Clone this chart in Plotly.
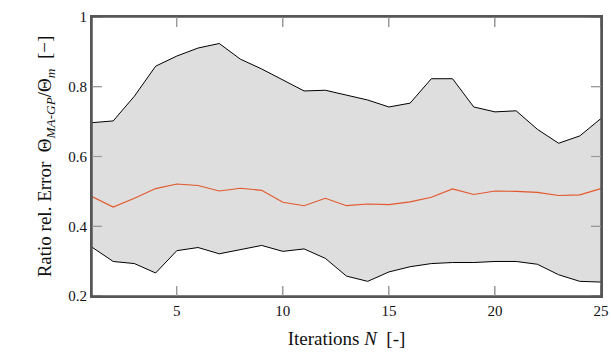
import plotly.graph_objects as go

iterations = list(range(1, 26))
upper = [0.697, 0.702, 0.773, 0.859, 0.888, 0.911, 0.924, 0.879, 0.851, 0.820,
         0.788, 0.790, 0.776, 0.762, 0.742, 0.753, 0.823, 0.823, 0.742, 0.728,
         0.731, 0.678, 0.638, 0.659, 0.709]
lower = [0.340, 0.299, 0.293, 0.266, 0.330, 0.339, 0.321, 0.333, 0.345, 0.328,
         0.335, 0.308, 0.257, 0.242, 0.269, 0.284, 0.293, 0.296, 0.296, 0.299,
         0.299, 0.291, 0.261, 0.242, 0.240]
mean = [0.485, 0.455, 0.480, 0.508, 0.521, 0.517, 0.501, 0.509, 0.503, 0.469,
        0.459, 0.480, 0.459, 0.464, 0.462, 0.470, 0.483, 0.507, 0.491, 0.501,
        0.500, 0.497, 0.488, 0.490, 0.508]
x_ticks = [5, 10, 15, 20, 25]
y_ticks = [0.2, 0.4, 0.6, 0.8, 1.0]
y_tick_text = ["0.2", "0.4", "0.6", "0.8", "1"]

font_family = "Liberation Serif"
X_RANGE = [1, 25]
Y_RANGE = [0.2, 1.0]
WIDTH, HEIGHT = 611, 358
MARGIN = dict(l=92, r=10, t=17, b=62, pad=0)
FRAME_COLOR = "#555555"
TICK_COLOR = "#9a9a9a"
TICK_LEN = 10

fig = go.Figure()
fig.add_trace(go.Scatter(x=iterations, y=lower, mode="lines",
                         line=dict(color="black", width=1), showlegend=False,
                         hoverinfo="skip"))
fig.add_trace(go.Scatter(x=iterations, y=upper, mode="lines",
                         line=dict(color="black", width=1), fill="tonexty",
                         fillcolor="#dedede", showlegend=False, hoverinfo="skip"))
fig.add_trace(go.Scatter(x=iterations, y=mean, mode="lines",
                         line=dict(color="#e3572b", width=1.1), showlegend=False,
                         hoverinfo="skip"))

axis_common = dict(showgrid=True, gridcolor="white", gridwidth=1, zeroline=False,
                   showline=True, linecolor=FRAME_COLOR, linewidth=2,
                   mirror="allticks", ticks="inside", ticklen=TICK_LEN,
                   tickcolor=TICK_COLOR, tickwidth=1.2, automargin=False,
                   layer="above traces",
                   tickfont=dict(family=font_family, size=15, color="#111111"))

fig.update_xaxes(range=X_RANGE, tickvals=x_ticks,
                 title=dict(text="Iterations <i>N</i>  [-]",
                            font=dict(family=font_family, size=19, color="#111111"),
                            standoff=14),
                 **axis_common)
fig.update_yaxes(range=Y_RANGE, tickvals=y_ticks, ticktext=y_tick_text,
                 title=dict(text="Ratio rel. Error  Θ<sub><i>MA-GP</i></sub>/Θ<sub><i>m</i></sub>  [−]",
                            font=dict(family=font_family, size=19, color="#111111"),
                            standoff=12),
                 **axis_common)

# Frame and tick marks also drawn on an overlay (0..1) axis pair, derived from the tick arrays
plot_w = WIDTH - MARGIN["l"] - MARGIN["r"]
plot_h = HEIGHT - MARGIN["t"] - MARGIN["b"]
tx, ty = [], []
for t in x_ticks:
    f = (t - X_RANGE[0]) / (X_RANGE[1] - X_RANGE[0])
    tx += [f, f, None, f, f, None]
    ty += [0, TICK_LEN / plot_h, None, 1, 1 - TICK_LEN / plot_h, None]
for v in y_ticks:
    f = (v - Y_RANGE[0]) / (Y_RANGE[1] - Y_RANGE[0])
    tx += [0, TICK_LEN / plot_w, None, 1, 1 - TICK_LEN / plot_w, None]
    ty += [f, f, None, f, f, None]

fig.update_layout(width=WIDTH, height=HEIGHT, margin=MARGIN,
                  plot_bgcolor="white", paper_bgcolor="white",
                  xaxis2=dict(overlaying="x", range=[0, 1], visible=False),
                  yaxis2=dict(overlaying="y", range=[0, 1], visible=False))
fig.add_trace(go.Scatter(x=tx, y=ty, xaxis="x2", yaxis="y2", mode="lines",
                         line=dict(color=TICK_COLOR, width=1.2), connectgaps=False,
                         showlegend=False, hoverinfo="skip", cliponaxis=False))
fig.add_trace(go.Scatter(x=[0, 1, 1, 0, 0], y=[0, 0, 1, 1, 0], xaxis="x2", yaxis="y2",
                         mode="lines", line=dict(color=FRAME_COLOR, width=1.5),
                         showlegend=False, hoverinfo="skip", cliponaxis=False))

fig.write_html("out.html", config={"displayModeBar": False},
               post_script="document.body.style.margin='0';document.body.style.overflow='hidden';")
